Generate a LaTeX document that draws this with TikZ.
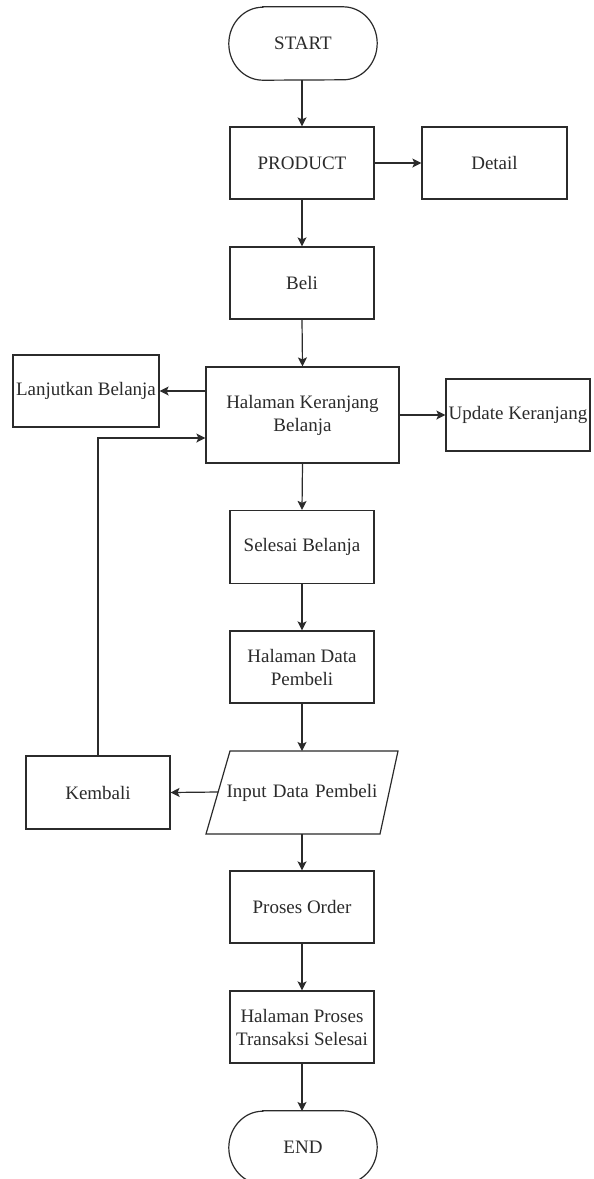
\documentclass[tikz,border=0pt]{standalone}
\usepackage{fontspec}
\setmainfont{Liberation Serif}
\usetikzlibrary{arrows.meta}
\definecolor{ink}{HTML}{2B2B2B}
\tikzset{
  box/.style={draw=ink, line width=1.2pt, minimum width=144pt, minimum height=72pt,
    inner sep=2pt, align=center, text=ink, font=\fontsize{19}{23}\selectfont},
  ghost/.style={minimum width=148pt, minimum height=73pt, inner sep=0pt,
    align=center, text=ink, font=\fontsize{19}{23}\selectfont},
  link/.style={draw=ink, line width=1.2pt, -{Stealth[length=9pt,width=9pt,inset=2pt]}},
  plain/.style={draw=ink, line width=1.2pt}
}
% oval end caps of a terminal node
\newcommand{\terminal}[1]{%
  \draw[plain] ([xshift=34pt]#1.north west) -- ([xshift=-34pt]#1.north east)
    arc[start angle=90,end angle=-90,x radius=34pt,y radius=36.5pt]
    -- ([xshift=34pt]#1.south west)
    arc[start angle=270,end angle=90,x radius=34pt,y radius=36.5pt] -- cycle;}
\begin{document}
\begin{tikzpicture}[x=1pt,y=-1pt]
  \fill[white] (0,0) rectangle (594,1179);
  \useasboundingbox (0,0) rectangle (594,1179);

  % main column
  \node[ghost] (start) at (303,43.5) {START};
  \terminal{start}
  \node[box] (product) at (302,163) {PRODUCT};
  \node[box, minimum width=145pt] (detail) at (494.5,163) {Detail};
  \node[box] (beli) at (302,283) {Beli};
  \node[box, minimum width=193pt, minimum height=96pt] (halaman) at (302.5,415)
    {Halaman Keranjang\\Belanja};
  \node[box, minimum width=146pt, inner sep=0pt] (lanjut) at (86,391) {Lanjutkan Belanja};
  \node[box, inner sep=0pt] (update) at (518,415) {Update Keranjang};
  \node[box, minimum height=73pt] (selesai) at (302,547) {Selesai Belanja};
  \node[box] (datapem) at (302,667) {Halaman Data\\Pembeli};

  % input parallelogram
  \coordinate (inTL) at (230,751);
  \coordinate (inTR) at (398,751);
  \coordinate (inBR) at (380,834);
  \coordinate (inBL) at (206,834);
  \draw[plain] (inTL) -- (inTR) -- (inBR) -- (inBL) -- cycle;
  \node[ghost, text width=180pt] (input) at (302,792.5) {Input Data Pembeli};
  \coordinate (inN) at (302,751);
  \coordinate (inS) at (302,834);
  \coordinate (inW) at (218,792);

  \node[box, minimum height=73pt] (kembali) at (98,792.5) {Kembali};
  \node[box] (proses) at (302,907) {Proses Order};
  \node[box] (transaksi) at (302,1027) {Halaman Proses\\Transaksi Selesai};
  \node[ghost] (end) at (303,1147.5) {END};
  \terminal{end}

  % connectors
  \coordinate (startS) at (302,80);
  \coordinate (endN) at (302,1111);
  \draw[link] (startS) -- (product.north);
  \draw[link] (product.east) -- (detail.west);
  \draw[link] (product.south) -- (beli.north);
  \draw[link] (beli.south) -- (halaman.north);
  \draw[link] (halaman.west |- lanjut.east) -- (lanjut.east);
  \draw[link] (halaman.east) -- (update.west);
  \draw[link] (halaman.south) -- (selesai.north);
  \draw[link] (selesai.south) -- (datapem.north);
  \draw[link] (datapem.south) -- (inN);
  \draw[link] (inW) -- (kembali.east);
  \draw[link] (kembali.north) |- ([yshift=-23pt]halaman.west);
  \draw[link] (inS) -- (proses.north);
  \draw[link] (proses.south) -- (transaksi.north);
  \draw[link] (transaksi.south) -- (endN);
\end{tikzpicture}
\end{document}
